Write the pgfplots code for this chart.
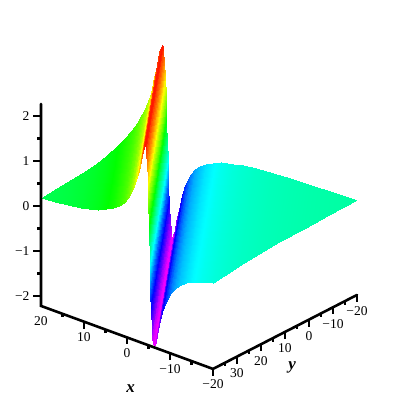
\documentclass[border=0pt]{standalone}
\usepackage{fontspec}
\setmainfont{Liberation Serif}
\usepackage{pgfplots}
\pgfplotsset{compat=1.18}
% each row pair is one line of constant height across the sheet: near end, far end
\pgfplotstableread{
x y z
20 40 0.182
20 40 0.182
16.8 40 0.209
20 33.33 0.209
13.8 40 0.241
20 27.08 0.241
10.8 40 0.286
20 20.83 0.286
8.8 40 0.327
20 16.67 0.327
6.8 40 0.380
20 12.5 0.380
4.8 40 0.455
20 8.33 0.455
3.3 40 0.533
20 5.21 0.533
1.8 40 0.643
20 2.08 0.643
0.8 40 0.744
20 0 0.744
-0.2 40 0.881
20 -2.08 0.881
-0.95 40 1.020
20 -3.65 1.020
-1.7 40 1.206
20 -5.21 1.206
-2.2 40 1.366
20 -6.25 1.366
-2.7 40 1.565
20 -7.29 1.565
-3.2 40 1.804
20 -8.33 1.804
-3.45 40 1.934
20 -8.85 1.934
-3.7 40 2.060
20 -9.375 2.060
-3.95 40 2.160
20 -9.9 2.160
-4.15 40 2.193
20 -10.31 2.193
-4.35 40 2.145
20 -10.73 2.145
-4.5 40 2.025
20 -11.04 2.025
-4.65 40 1.804
20 -11.35 1.804
-4.8 40 1.460
20 -11.67 1.460
-4.95 40 0.989
20 -11.98 0.989
-5.1 40 0.414
20 -12.29 0.414
-5.3 40 -0.414
20 -12.71 -0.414
-5.45 40 -0.989
20 -13.02 -0.989
-5.6 40 -1.460
20 -13.33 -1.460
-5.75 40 -1.804
20 -13.65 -1.804
-5.9 40 -2.025
20 -13.96 -2.025
-6.05 40 -2.145
20 -14.27 -2.145
-6.25 40 -2.193
20 -14.69 -2.193
-6.45 40 -2.160
20 -15.1 -2.160
-6.7 40 -2.060
20 -15.63 -2.060
-6.95 40 -1.934
20 -16.15 -1.934
-7.2 40 -1.804
20 -16.67 -1.804
-7.7 40 -1.565
20 -17.71 -1.565
-8.2 40 -1.366
20 -18.75 -1.366
-8.8 40 -1.178
20 -20 -1.178
-9.45 40 -1.020
19.35 -20 -1.020
-10.2 40 -0.881
18.6 -20 -0.881
-11.2 40 -0.744
17.6 -20 -0.744
-12.2 40 -0.643
16.6 -20 -0.643
-13.7 40 -0.533
15.1 -20 -0.533
-15.2 40 -0.455
13.6 -20 -0.455
-17.2 40 -0.380
11.6 -20 -0.380
-20 40 -0.309
8.8 -20 -0.309
-20 35.42 -0.270
6.6 -20 -0.270
-20 29.17 -0.229
3.6 -20 -0.229
-20 20.83 -0.191
-0.4 -20 -0.191
-20 12.5 -0.164
-4.4 -20 -0.164
-20 2.08 -0.139
-9.4 -20 -0.139
-20 -8.33 -0.121
-14.4 -20 -0.121
-20 -20 -0.105
-20 -20 -0.105
}\sheet
\newcommand{\xlab}[2]{\node[font=\fontsize{13.5}{13.5}\selectfont,anchor=center] at ([yshift=-15.5pt]axis cs:#1,40,-2.22) {#2};}
\newcommand{\ylab}[2]{\node[font=\fontsize{13.5}{13.5}\selectfont,anchor=center] at ([yshift=-16.5pt]axis cs:-20,#1,-2.22) {#2};}
\newcommand{\zlab}[2]{\node[font=\fontsize{13.5}{13.5}\selectfont,anchor=east] at ([xshift=-8pt]axis cs:20,40,#1) {#2};}
\begin{document}
\begin{tikzpicture}
\useasboundingbox (0,0) rectangle (400pt,400pt);
\begin{axis}[
  at={(223pt,211.8pt)},anchor=origin,
  disabledatascaling,
  x={(-4.3pt,1.575pt)},y={(-2.4pt,-1.233pt)},z={(0pt,45pt)},
  xmin=-20,xmax=20,ymin=-20,ymax=40,zmin=-2.22,zmax=2.27,
  hide axis,clip=false,
  point meta min=-2.24,point meta max=2.27,
  colormap={zhue}{rgb255=(255,0,255) rgb255=(0,0,255) rgb255=(0,255,255) rgb255=(0,255,0) rgb255=(255,255,0) rgb255=(255,0,0)},
]
\addplot3[surf,shader=interp,z buffer=none,mesh/cols=2,point meta=\thisrow{z}] table[x=x,y=y,z=z] {\sheet};
\addplot3[black,line width=2.6pt,line cap=round] coordinates {(20,40,2.27) (20,40,-2.22) (-20,40,-2.22) (-20,-20,-2.22)};
\pgfplotsinvokeforeach{10,0,-10,-20}{\draw[line width=2.4pt] (axis cs:#1,40,-2.22) -- ++(0,-7pt);}
\pgfplotsinvokeforeach{15,5,-5,-15}{\draw[line width=2.4pt] (axis cs:#1,40,-2.22) -- ++(0,-3.5pt);}
\pgfplotsinvokeforeach{30,20,10,0,-10,-20}{\draw[line width=2.4pt] (axis cs:-20,#1,-2.22) -- ++(0,-7pt);}
\pgfplotsinvokeforeach{35,25,15,5,-5,-15}{\draw[line width=2.4pt] (axis cs:-20,#1,-2.22) -- ++(0,-3.5pt);}
\pgfplotsinvokeforeach{2,1,0,-1,-2}{\draw[line width=2.4pt] (axis cs:20,40,#1) -- ++(-8pt,0);}
\pgfplotsinvokeforeach{1.5,0.5,-0.5,-1.5}{\draw[line width=2.4pt] (axis cs:20,40,#1) -- ++(-4pt,0);}
\xlab{20}{20}\xlab{10}{10}\xlab{0}{0}\xlab{-10}{−10}\xlab{-20}{−20}
\ylab{30}{30}\ylab{20}{20}\ylab{10}{10}\ylab{0}{0}\ylab{-10}{−10}\ylab{-20}{−20}
\zlab{2}{2}\zlab{1}{1}\zlab{0}{0}\zlab{-1}{−1}\zlab{-2}{−2}
\node[font=\fontsize{17}{17}\selectfont\bfseries\itshape] at (axis cs:-7.6,40,-2.22) [yshift=-39pt,xshift=-29pt] {x};
\node[font=\fontsize{17}{17}\selectfont\bfseries\itshape] at (axis cs:-20,7,-2.22) [yshift=-39pt,xshift=0pt] {y};
\end{axis}
\end{tikzpicture}
\end{document}
